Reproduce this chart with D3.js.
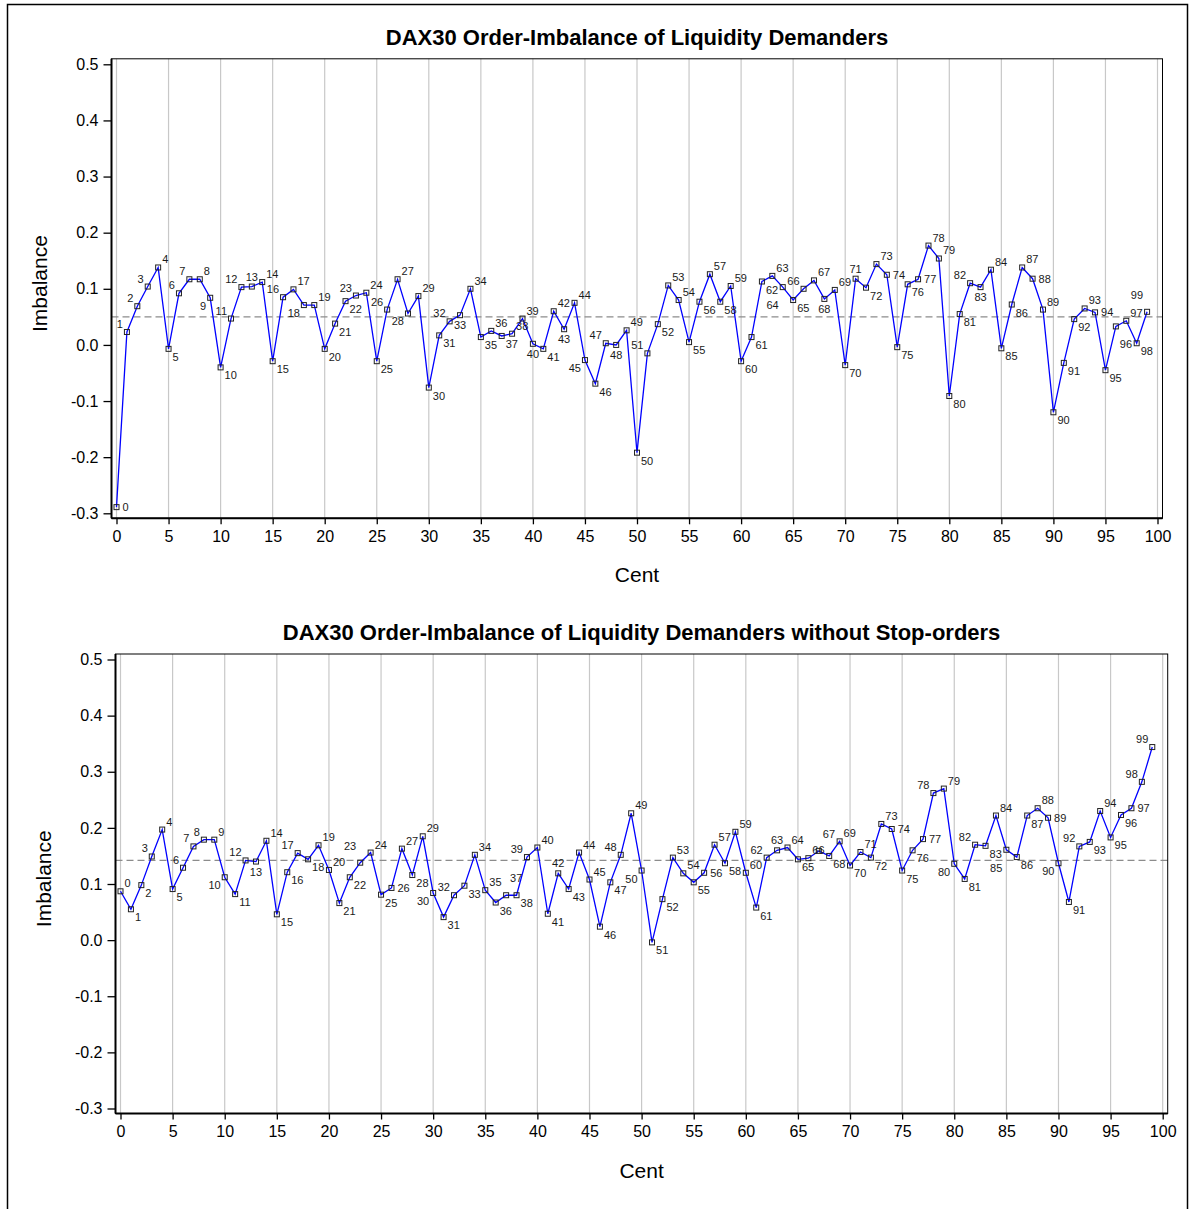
<!DOCTYPE html>
<html>
<head>
<meta charset="utf-8">
<script src="https://cdn.jsdelivr.net/npm/d3@7"></script>
<style>
  body { margin: 0; background: #fff; }
  svg { font-family: "Liberation Sans", Arial, sans-serif; }
</style>
</head>
<body>
<div id="graph"></div>
<script>
var cents = d3.range(100);

// order-imbalance of liquidity demanders, per cent
var imbalanceAll = [
  -0.289, 0.023, 0.069, 0.104, 0.138, -0.007, 0.092, 0.117, 0.117, 0.084,
  -0.040, 0.047, 0.103, 0.104, 0.112, -0.029, 0.085, 0.099, 0.071, 0.071,
  -0.007, 0.038, 0.078, 0.088, 0.093, -0.029, 0.063, 0.117, 0.056, 0.087,
  -0.076, 0.017, 0.042, 0.053, 0.100, 0.014, 0.025, 0.016, 0.020, 0.047,
  0.002, -0.007, 0.060, 0.028, 0.075, -0.027, -0.069, 0.003, 0.000, 0.026,
  -0.192, -0.015, 0.037, 0.106, 0.080, 0.005, 0.077, 0.126, 0.077, 0.105,
  -0.029, 0.014, 0.113, 0.123, 0.103, 0.080, 0.100, 0.115, 0.082, 0.098,
  -0.036, 0.118, 0.102, 0.144, 0.125, -0.004, 0.108, 0.117, 0.177, 0.154,
  -0.091, 0.055, 0.110, 0.103, 0.134, -0.006, 0.072, 0.138, 0.118, 0.063,
  -0.120, -0.032, 0.046, 0.065, 0.058, -0.045, 0.033, 0.043, 0.003, 0.059
];
var meanAll = 0.050;

// same without stop-orders
var imbalanceNoStop = [
  0.087, 0.055, 0.098, 0.149, 0.197, 0.091, 0.129, 0.167, 0.179, 0.179,
  0.112, 0.082, 0.142, 0.140, 0.177, 0.046, 0.121, 0.155, 0.144, 0.169,
  0.125, 0.066, 0.112, 0.138, 0.156, 0.081, 0.093, 0.163, 0.116, 0.185,
  0.084, 0.041, 0.080, 0.097, 0.152, 0.089, 0.067, 0.080, 0.080, 0.148,
  0.165, 0.047, 0.119, 0.091, 0.156, 0.108, 0.024, 0.103, 0.152, 0.226,
  0.124, -0.004, 0.073, 0.147, 0.119, 0.103, 0.120, 0.170, 0.137, 0.193,
  0.120, 0.058, 0.147, 0.160, 0.165, 0.144, 0.146, 0.159, 0.150, 0.176,
  0.133, 0.157, 0.147, 0.207, 0.198, 0.124, 0.160, 0.180, 0.262, 0.270,
  0.136, 0.109, 0.170, 0.168, 0.222, 0.161, 0.148, 0.222, 0.235, 0.218,
  0.137, 0.068, 0.167, 0.175, 0.230, 0.183, 0.223, 0.235, 0.282, 0.344
];
var meanNoStop = 0.142;

var yTicks = [-0.3, -0.2, -0.1, 0.0, 0.1, 0.2, 0.3, 0.4, 0.5];
var xTicks = d3.range(0, 101, 5);

var titles = [
  "DAX30 Order-Imbalance of Liquidity Demanders",
  "DAX30 Order-Imbalance of Liquidity Demanders without Stop-orders"
];

var W = 1191, H = 1209;

var svg = d3.select("#graph").append("svg")
    .attr("width", W)
    .attr("height", H);

// outer frame
svg.append("rect")
    .attr("x", 7.5).attr("y", 4.5)
    .attr("width", 1180).attr("height", 1220)
    .attr("fill", "none")
    .attr("stroke", "#000")
    .attr("stroke-width", 1.5);

var LABEL_SIZE = 11, DIGIT_W = 6.1;

// candidate offsets for point labels: [dx, dy(baseline), anchor]
var spots = {
  UR: [4, -4, "start"], UL: [-4, -4, "end"], LR: [4, 12, "start"], LL: [-4, 12, "end"],
  R: [6, 4, "start"], L: [-6, 4, "end"], U: [0, -6, "middle"], D: [0, 14, "middle"],
  UR2: [4, -13, "start"], LR2: [4, 22, "start"], UL2: [-4, -13, "end"], LL2: [-4, 22, "end"],
  RU: [6, -2, "start"]
};

function labelBox(px, py, s, w) {
  var tx = px + s[0];
  var x0 = s[2] === "start" ? tx : s[2] === "end" ? tx - w : tx - w / 2;
  return {x0: x0 - 1, x1: x0 + w + 1, y0: py + s[1] - 9.5, y1: py + s[1] + 2};
}

function hits(a, b) {
  return a.x0 < b.x1 && a.x1 > b.x0 && a.y0 < b.y1 && a.y1 > b.y0;
}

function segHitsBox(ax, ay, bx, by, box) {
  for (var t = 0; t <= 1; t += 0.05) {
    var sx = ax + (bx - ax) * t, sy = ay + (by - ay) * t;
    if (sx > box.x0 && sx < box.x1 && sy > box.y0 && sy < box.y1) return true;
  }
  return false;
}

function drawPanel(p, values, mean, title) {
  var x = d3.scaleLinear().domain([0, 100]).range([p.x0, p.x1]),
      y = d3.scaleLinear().domain([-0.3, 0.5]).range([p.y1, p.y0]);

  var left = p.x0 - 5, right = p.x1 + 5,
      top = p.y0 - 5.5, bottom = p.y1 + 5;

  var g = svg.append("g");

  // vertical grid
  g.selectAll(".grid")
    .data(xTicks)
    .enter().append("line")
      .attr("x1", function(d) { return x(d); })
      .attr("x2", function(d) { return x(d); })
      .attr("y1", top).attr("y2", bottom)
      .attr("stroke", "#c8c8c8")
      .attr("stroke-width", 1.2);

  // mean reference line
  g.append("line")
    .attr("x1", left).attr("x2", right)
    .attr("y1", y(mean)).attr("y2", y(mean))
    .attr("stroke", "#8c8c8c")
    .attr("stroke-width", 1.3)
    .attr("stroke-dasharray", "7,4");

  // frame
  g.append("rect")
    .attr("x", left).attr("y", top)
    .attr("width", right - left).attr("height", bottom - top)
    .attr("fill", "none")
    .attr("stroke", "#000")
    .attr("stroke-width", 1);

  // axes
  var yAxis = g.append("g")
    .attr("transform", "translate(" + left + ",0)")
    .call(d3.axisLeft(y).tickValues(yTicks).tickSize(8).tickPadding(5)
      .tickFormat(function(d) { return d.toFixed(1); }));
  var xAxis = g.append("g")
    .attr("transform", "translate(0," + bottom + ")")
    .call(d3.axisBottom(x).tickValues(xTicks).tickSize(6).tickPadding(6));

  [yAxis, xAxis].forEach(function(a) {
    a.select(".domain").attr("stroke-width", 2);
    a.selectAll(".tick line").attr("stroke-width", 1.3);
    a.selectAll("text")
      .attr("font-size", 16)
      .attr("font-family", "Liberation Sans, Arial, sans-serif")
      .attr("fill", "#000");
  });
  xAxis.select(".domain").attr("d", "M" + left + ",0H" + right);
  yAxis.select(".domain").attr("d", "M0," + top + "V" + bottom);

  // line
  var line = d3.line()
      .x(function(d, i) { return x(cents[i]); })
      .y(function(d) { return y(d); });

  g.append("path")
    .datum(values)
    .attr("d", line)
    .attr("fill", "none")
    .attr("stroke", "#0000ff")
    .attr("stroke-width", 1.3);

  // markers
  g.selectAll(".mk")
    .data(values)
    .enter().append("rect")
      .attr("x", function(d, i) { return x(cents[i]) - 2.5; })
      .attr("y", function(d) { return y(d) - 2.5; })
      .attr("width", 5).attr("height", 5)
      .attr("fill", "none")
      .attr("stroke", "#222")
      .attr("stroke-width", 1);

  // point labels: greedy placement on the free side of the line
  var pts = values.map(function(d, i) { return [x(cents[i]), y(d)]; });
  var markerBoxes = pts.map(function(q) {
    return {x0: q[0] - 3, x1: q[0] + 3, y0: q[1] - 3, y1: q[1] + 3};
  });
  var placed = [];

  values.forEach(function(d, i) {
    var pv = i > 0 ? values[i - 1] : d,
        nv = i < values.length - 1 ? values[i + 1] : d,
        order;
    if (d >= pv && d >= nv) order = ["UR", "UL", "U", "R", "L", "UR2", "UL2", "LR", "LL", "D"];
    else if (d <= pv && d <= nv) order = ["LR", "LL", "D", "R", "RU", "L", "LR2", "LL2", "UR", "UL", "U"];
    else if (pv < d) order = ["UL", "LR", "L", "R", "U", "D", "UL2", "LR2", "UR", "LL"];
    else order = ["LL", "UR", "L", "R", "D", "U", "LL2", "UR2", "UL", "LR"];

    var w = String(cents[i]).length * DIGIT_W, px = pts[i][0], py = pts[i][1];
    var best = null, bestScore = 1e9;
    order.forEach(function(k, rank) {
      var b = labelBox(px, py, spots[k], w), score = rank * 0.1;
      placed.forEach(function(o) { if (hits(b, o)) score += 20; });
      markerBoxes.forEach(function(o, j) { if (j !== i && hits(b, o)) score += 5; });
      for (var j = Math.max(0, i - 3); j < Math.min(pts.length - 1, i + 3); j++) {
        if (segHitsBox(pts[j][0], pts[j][1], pts[j + 1][0], pts[j + 1][1], b)) score += 3;
      }
      if (b.y1 > bottom - 1 || b.y0 < top + 1 || b.x0 < left + 1 || b.x1 > right - 1) score += 15;
      if (score < bestScore) { bestScore = score; best = k; }
    });
    var s = spots[best];
    placed.push(labelBox(px, py, s, w));
    g.append("text")
      .attr("x", px + s[0])
      .attr("y", py + s[1])
      .attr("text-anchor", s[2])
      .attr("font-size", LABEL_SIZE)
      .attr("fill", "#1a1a1a")
      .text(cents[i]);
  });

  // titles
  g.append("text")
    .attr("x", (left + right) / 2)
    .attr("y", top - 14)
    .attr("text-anchor", "middle")
    .attr("font-size", 22)
    .attr("font-weight", "bold")
    .text(title);

  g.append("text")
    .attr("x", (left + right) / 2)
    .attr("y", bottom + 64)
    .attr("text-anchor", "middle")
    .attr("font-size", 21)
    .text("Cent");

  g.append("text")
    .attr("transform", "translate(" + (p.x0 - 70) + "," + ((top + bottom) / 2 - 5) + ") rotate(-90)")
    .attr("text-anchor", "middle")
    .attr("font-size", 21)
    .text("Imbalance");
}

drawPanel({x0: 116.5, x1: 1157.5, y0: 64.3, y1: 513.3}, imbalanceAll, meanAll, titles[0]);
drawPanel({x0: 120.5, x1: 1162.7, y0: 659.5, y1: 1108.5}, imbalanceNoStop, meanNoStop, titles[1]);
</script>
</body>
</html>
